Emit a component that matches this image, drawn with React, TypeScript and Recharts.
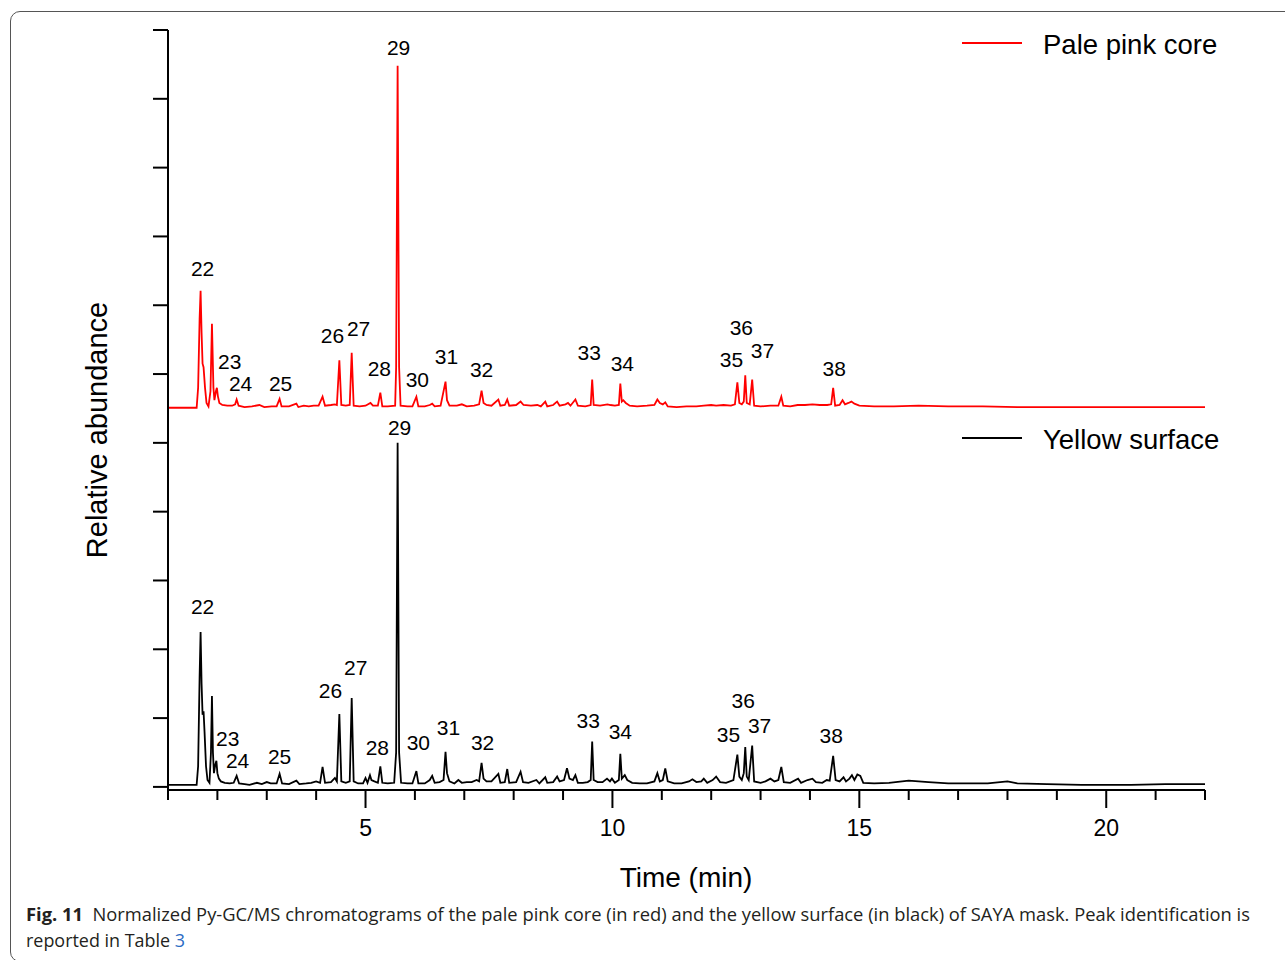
import { ComposedChart, Line, Scatter, XAxis, YAxis } from "recharts";

// pale pink core trace, stored above its own baseline and lifted by pinkOffset
const pinkOffset = 5.5;

const pinkEarly: [number, number][] = [
  [1.0, 0.01], [1.58, 0.01], [1.61, 0.3], [1.64, 1.3], [1.66, 1.71], [1.68, 1.1], [1.7, 0.65],
  [1.72, 0.6], [1.75, 0.3], [1.78, 0.08], [1.82, 0.03], [1.86, 0.25], [1.89, 1.23], [1.92, 0.3],
  [1.94, 0.12], [1.97, 0.25], [1.99, 0.3], [2.01, 0.18], [2.04, 0.08], [2.1, 0.05], [2.2, 0.04],
  [2.3, 0.04], [2.36, 0.06], [2.39, 0.13], [2.43, 0.04], [2.55, 0.02], [2.7, 0.03], [2.85, 0.05],
  [2.95, 0.02], [3.1, 0.03], [3.2, 0.03], [3.26, 0.14], [3.3, 0.03], [3.45, 0.03], [3.6, 0.07],
  [3.64, 0.02], [3.75, 0.04], [3.85, 0.03], [3.95, 0.04],
];

const pinkMid: [number, number][] = [
  [4.05, 0.04], [4.13, 0.17], [4.18, 0.04], [4.3, 0.05], [4.38, 0.06], [4.42, 0.05], [4.47, 0.7],
  [4.51, 0.05], [4.6, 0.04], [4.68, 0.05], [4.72, 0.81], [4.76, 0.04], [4.88, 0.03], [5.0, 0.04],
  [5.1, 0.08], [5.15, 0.04], [5.25, 0.04], [5.3, 0.23], [5.34, 0.03], [5.45, 0.03], [5.6, 0.04],
  [5.62, 0.6], [5.65, 4.98], [5.68, 0.6], [5.71, 0.04], [5.85, 0.03], [5.95, 0.03], [6.03, 0.17],
  [6.07, 0.03], [6.2, 0.03], [6.3, 0.05], [6.35, 0.07], [6.4, 0.03], [6.52, 0.04], [6.62, 0.39],
  [6.65, 0.12], [6.7, 0.04], [6.85, 0.04], [6.95, 0.06], [7.05, 0.03], [7.2, 0.04], [7.3, 0.06],
  [7.35, 0.26], [7.39, 0.08], [7.45, 0.05], [7.55, 0.04], [7.69, 0.13], [7.73, 0.04], [7.82, 0.05],
  [7.87, 0.13], [7.91, 0.04], [8.05, 0.05], [8.14, 0.1], [8.2, 0.05], [8.35, 0.04], [8.48, 0.05],
  [8.55, 0.03], [8.64, 0.1], [8.68, 0.03], [8.8, 0.05], [8.88, 0.1], [8.93, 0.04], [9.05, 0.06],
  [9.1, 0.08], [9.15, 0.04], [9.25, 0.13], [9.3, 0.04], [9.45, 0.03], [9.56, 0.05], [9.59, 0.42],
  [9.62, 0.05], [9.75, 0.04], [9.9, 0.06], [9.96, 0.05], [10.05, 0.04], [10.13, 0.05], [10.16, 0.36],
  [10.19, 0.1], [10.22, 0.12], [10.27, 0.08], [10.35, 0.04],
];

const pinkLate: [number, number][] = [
  [10.5, 0.03], [10.7, 0.04], [10.85, 0.05], [10.91, 0.13], [10.96, 0.08], [11.02, 0.06], [11.07, 0.09],
  [11.12, 0.03], [11.3, 0.02], [11.5, 0.03], [11.7, 0.03], [11.85, 0.04], [12.0, 0.05], [12.1, 0.04],
  [12.25, 0.05], [12.4, 0.04], [12.48, 0.06], [12.53, 0.38], [12.57, 0.08], [12.62, 0.06], [12.66, 0.1],
  [12.69, 0.48], [12.72, 0.08], [12.78, 0.06], [12.83, 0.42], [12.87, 0.04], [13.0, 0.03], [13.2, 0.04],
  [13.36, 0.04], [13.42, 0.17], [13.46, 0.04], [13.6, 0.03], [13.75, 0.05], [13.9, 0.05], [14.05, 0.06],
  [14.2, 0.05], [14.35, 0.05], [14.43, 0.06], [14.47, 0.3], [14.51, 0.04], [14.6, 0.05], [14.66, 0.12],
  [14.71, 0.06], [14.78, 0.08], [14.84, 0.1], [14.9, 0.07], [15.0, 0.04], [15.3, 0.03], [15.7, 0.03],
  [16.2, 0.04], [16.8, 0.03], [17.5, 0.03], [18.2, 0.02], [19.0, 0.02], [20.0, 0.02], [21.0, 0.02],
  [22.0, 0.02],
];

// yellow surface trace
const yellowEarly: [number, number][] = [
  [1.0, 0.03], [1.58, 0.03], [1.61, 0.3], [1.64, 1.6], [1.66, 2.25], [1.68, 1.5], [1.7, 1.05],
  [1.72, 1.1], [1.74, 0.8], [1.77, 0.3], [1.8, 0.1], [1.84, 0.06], [1.87, 0.5], [1.89, 1.32],
  [1.91, 0.5], [1.93, 0.2], [1.96, 0.33], [1.98, 0.38], [2.0, 0.2], [2.03, 0.12], [2.07, 0.08],
  [2.15, 0.06], [2.25, 0.05], [2.33, 0.06], [2.39, 0.16], [2.44, 0.05], [2.55, 0.04], [2.65, 0.03],
  [2.8, 0.06], [2.9, 0.04], [3.0, 0.07], [3.08, 0.05], [3.2, 0.05], [3.26, 0.19], [3.31, 0.05],
  [3.45, 0.04], [3.6, 0.09], [3.66, 0.04], [3.8, 0.05], [3.9, 0.06], [4.0, 0.08],
];

const yellowMid: [number, number][] = [
  [4.08, 0.06], [4.13, 0.29], [4.18, 0.06], [4.3, 0.07], [4.38, 0.13], [4.42, 0.08], [4.47, 1.06],
  [4.51, 0.08], [4.6, 0.06], [4.68, 0.08], [4.72, 1.29], [4.76, 0.08], [4.85, 0.05], [4.95, 0.05],
  [5.0, 0.13], [5.04, 0.06], [5.09, 0.17], [5.12, 0.1], [5.18, 0.08], [5.25, 0.06], [5.3, 0.3],
  [5.34, 0.06], [5.45, 0.05], [5.58, 0.06], [5.62, 0.5], [5.65, 5.0], [5.68, 0.5], [5.72, 0.06],
  [5.85, 0.05], [5.95, 0.05], [6.03, 0.23], [6.07, 0.05], [6.2, 0.05], [6.3, 0.1], [6.35, 0.16],
  [6.4, 0.06], [6.5, 0.07], [6.58, 0.1], [6.62, 0.51], [6.65, 0.2], [6.7, 0.08], [6.8, 0.05],
  [6.88, 0.1], [6.95, 0.06], [7.05, 0.07], [7.15, 0.07], [7.25, 0.1], [7.3, 0.08], [7.35, 0.35],
  [7.39, 0.12], [7.45, 0.08], [7.55, 0.08], [7.69, 0.19], [7.73, 0.06], [7.82, 0.07], [7.87, 0.26],
  [7.91, 0.06], [8.05, 0.07], [8.14, 0.22], [8.19, 0.07], [8.3, 0.06], [8.46, 0.1], [8.52, 0.05],
  [8.64, 0.14], [8.68, 0.06], [8.8, 0.07], [8.88, 0.15], [8.93, 0.08], [9.02, 0.1], [9.08, 0.27],
  [9.13, 0.12], [9.2, 0.1], [9.25, 0.17], [9.3, 0.06], [9.4, 0.06], [9.5, 0.07], [9.56, 0.1],
  [9.59, 0.66], [9.62, 0.1], [9.7, 0.07], [9.8, 0.07], [9.89, 0.12], [9.95, 0.08], [9.99, 0.12],
  [10.05, 0.06], [10.13, 0.1], [10.16, 0.48], [10.19, 0.12], [10.25, 0.17], [10.3, 0.1], [10.4, 0.06],
];

const yellowLate: [number, number][] = [
  [10.55, 0.05], [10.7, 0.05], [10.85, 0.08], [10.91, 0.2], [10.96, 0.08], [11.02, 0.1], [11.07, 0.27],
  [11.12, 0.08], [11.25, 0.05], [11.4, 0.05], [11.55, 0.08], [11.62, 0.11], [11.7, 0.07], [11.8, 0.08],
  [11.85, 0.12], [11.92, 0.06], [12.03, 0.1], [12.1, 0.15], [12.18, 0.07], [12.3, 0.06], [12.45, 0.1],
  [12.53, 0.47], [12.57, 0.15], [12.62, 0.1], [12.66, 0.2], [12.69, 0.58], [12.72, 0.15], [12.76, 0.1],
  [12.83, 0.6], [12.87, 0.08], [13.0, 0.06], [13.1, 0.08], [13.2, 0.12], [13.28, 0.08], [13.36, 0.1],
  [13.42, 0.29], [13.47, 0.07], [13.6, 0.06], [13.76, 0.12], [13.82, 0.06], [13.95, 0.1], [14.05, 0.12],
  [14.12, 0.07], [14.25, 0.06], [14.34, 0.1], [14.4, 0.09], [14.47, 0.45], [14.52, 0.1], [14.6, 0.08],
  [14.68, 0.14], [14.73, 0.08], [14.8, 0.12], [14.85, 0.17], [14.9, 0.1], [14.96, 0.18], [15.02, 0.16],
  [15.08, 0.06], [15.3, 0.05], [15.6, 0.06], [16.0, 0.09], [16.4, 0.07], [16.8, 0.05], [17.2, 0.05],
  [17.6, 0.05], [18.0, 0.08], [18.2, 0.05], [18.8, 0.04], [19.5, 0.03], [20.5, 0.03], [21.2, 0.04],
  [22.0, 0.04],
];

// peak numbers: [time, height on the axis, label]
const pinkPeakLabels: [number, number, string][] = [
  [1.7, 7.53, "22"], [2.25, 6.18, "23"], [2.47, 5.86, "24"], [3.28, 5.86, "25"], [4.33, 6.56, "26"],
  [4.86, 6.66, "27"], [5.28, 6.08, "28"], [5.67, 10.74, "29"], [6.05, 5.92, "30"], [6.64, 6.26, "31"],
  [7.35, 6.06, "32"], [9.53, 6.31, "33"], [10.2, 6.15, "34"], [12.41, 6.21, "35"], [12.61, 6.67, "36"],
  [13.04, 6.34, "37"], [14.49, 6.08, "38"],
];

const yellowPeakLabels: [number, number, string][] = [
  [1.7, 2.62, "22"], [2.21, 0.71, "23"], [2.41, 0.39, "24"], [3.26, 0.44, "25"], [4.29, 1.4, "26"],
  [4.8, 1.74, "27"], [5.24, 0.57, "28"], [5.69, 5.23, "29"], [6.07, 0.64, "30"], [6.68, 0.87, "31"],
  [7.37, 0.65, "32"], [9.51, 0.96, "33"], [10.16, 0.8, "34"], [12.35, 0.76, "35"], [12.65, 1.26, "36"],
  [12.98, 0.89, "37"], [14.43, 0.74, "38"],
];

const timeTicks = [1, 2, 3, 4, 5, 6, 7, 8, 9, 10, 11, 12, 13, 14, 15, 16, 17, 18, 19, 20, 21, 22];
const labelledTimes = [5, 10, 15, 20];
const abundanceTicks = [0, 1, 2, 3, 4, 5, 6, 7, 8, 9, 10, 11];

const pinkData = [...pinkEarly, ...pinkMid, ...pinkLate].map(([t, v]) => ({ t, v: v + pinkOffset }));
const yellowData = [...yellowEarly, ...yellowMid, ...yellowLate].map(([t, v]) => ({ t, v }));
const labelData = [...pinkPeakLabels, ...yellowPeakLabels].map(([t, y, name]) => ({ t, y, name }));

const FONT = "'Liberation Sans', Arial, sans-serif";

function TimeTick({ x, y, payload }: any) {
  const major = labelledTimes.includes(payload.value);
  return (
    <g>
      <line x1={x} x2={x} y1={y} y2={y + (major ? 18 : 10)} stroke="#000" strokeWidth={2} />
      {major && (
        <text x={x} y={y + 38} textAnchor="middle" dominantBaseline="central" fontSize={23} fill="#000" fontFamily={FONT}>
          {payload.value}
        </text>
      )}
    </g>
  );
}

function PeakLabel({ cx, cy, payload }: any) {
  return (
    <text x={cx} y={cy} textAnchor="middle" dominantBaseline="central" fontSize={21} fill="#000" fontFamily={FONT}>
      {payload.name}
    </text>
  );
}

export default function App() {
  return (
    <div style={{ position: "absolute", left: 0, top: 0, width: 1285, height: 960, background: "#fff", overflow: "hidden" }}>
      <div
        style={{
          position: "absolute",
          left: 10,
          top: 11,
          width: 1300,
          height: 951,
          border: "1.5px solid #555",
          borderRadius: 10,
          boxSizing: "border-box",
        }}
      />
      <div style={{ position: "absolute", left: 0, top: 0 }}>
        <ComposedChart width={1285} height={960} margin={{ top: 30, right: 80, bottom: 140, left: 148 }} style={{ fontFamily: FONT }}>
          <XAxis
            type="number"
            dataKey="t"
            domain={[1, 22]}
            ticks={timeTicks}
            interval={0}
            allowDataOverflow
            height={30}
            tickSize={0}
            tickMargin={0}
            tickLine={false}
            tick={<TimeTick />}
            axisLine={{ stroke: "#000", strokeWidth: 2 }}
          />
          <YAxis
            type="number"
            domain={[-0.045, 11]}
            ticks={abundanceTicks}
            interval={0}
            allowDataOverflow
            width={20}
            tickSize={15}
            tickFormatter={() => ""}
            tickLine={{ stroke: "#000", strokeWidth: 2 }}
            axisLine={{ stroke: "#000", strokeWidth: 2 }}
          />
          <Line data={yellowData} dataKey="v" type="linear" dot={false} stroke="#000" strokeWidth={1.8} isAnimationActive={false} />
          <Line data={pinkData} dataKey="v" type="linear" dot={false} stroke="#ff0000" strokeWidth={1.8} isAnimationActive={false} />
          <Scatter data={labelData} dataKey="y" shape={<PeakLabel />} isAnimationActive={false} />
        </ComposedChart>
      </div>
      <svg width={1285} height={960} style={{ position: "absolute", left: 0, top: 0, pointerEvents: "none" }}>
        <g fontFamily={FONT} fill="#000">
          <text x={97} y={430} fontSize={29} textAnchor="middle" dominantBaseline="central" transform="rotate(-90 97 430)">
            Relative abundance
          </text>
          <text x={686} y={877} fontSize={28} textAnchor="middle" dominantBaseline="central">
            Time (min)
          </text>
          <line x1={962} x2={1022} y1={43} y2={43} stroke="#ff0000" strokeWidth={2} />
          <text x={1043} y={44} fontSize={27.5} dominantBaseline="central">Pale pink core</text>
          <line x1={962} x2={1022} y1={438} y2={438} stroke="#000" strokeWidth={2} />
          <text x={1043} y={439} fontSize={27.5} dominantBaseline="central">Yellow surface</text>
        </g>
        <g fontFamily="'Open Sans', 'Noto Sans', sans-serif" fill="#231f20" fontSize={18}>
          <text x={26} y={921} textLength={1224} lengthAdjust="spacingAndGlyphs">
            <tspan fontWeight="bold">Fig. 11</tspan>
            {"\u00a0\u00a0Normalized Py-GC/MS chromatograms of the pale pink core (in red) and the yellow surface (in black) of SAYA mask. Peak identification is"}
          </text>
          <text x={26} y={947} textLength={159} lengthAdjust="spacingAndGlyphs">
            {"reported in Table "}
            <tspan fill="#2b6cc4">3</tspan>
          </text>
        </g>
      </svg>
    </div>
  );
}
